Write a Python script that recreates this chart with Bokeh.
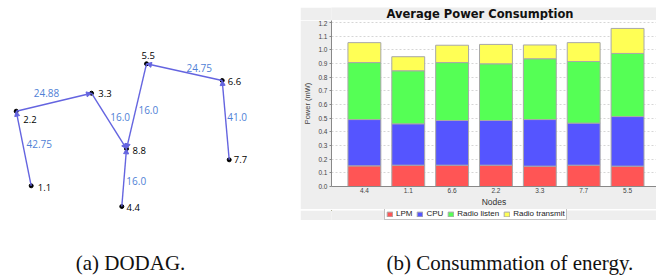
from bokeh.plotting import figure
from bokeh.models import (Range1d, ColumnDataSource, Arrow, NormalHead, Label,
                          Legend, LegendItem, FixedTicker, PrintfTickFormatter, Spacer)
from bokeh.layouts import row, column
from bokeh.embed import file_html
from bokeh.resources import INLINE
from bokeh.core.properties import value

# ---------------- DODAG data ----------------
node_names = ["1.1", "2.2", "3.3", "4.4", "5.5", "6.6", "7.7", "8.8"]
node_x = [30.7, 15.7, 91.0, 121.3, 146.0, 221.7, 228.7, 126.0]
node_y = [185.3, 110.7, 92.7, 206.0, 63.3, 80.0, 159.3, 148.3]
edge_from = ["1.1", "2.2", "3.3", "5.5", "4.4", "6.6", "7.7"]
edge_to = ["2.2", "3.3", "8.8", "8.8", "8.8", "5.5", "6.6"]
edge_weight = ["42.75", "24.88", "16.0", "16.0", "16.0", "24.75", "41.0"]

# ---------------- Bar chart data ----------------
nodes = ["4.4", "1.1", "6.6", "2.2", "3.3", "7.7", "5.5"]
lpm = [0.151, 0.156, 0.156, 0.156, 0.149, 0.156, 0.149]
cpu = [0.339, 0.303, 0.327, 0.327, 0.341, 0.308, 0.363]
radio_listen = [0.417, 0.388, 0.424, 0.415, 0.445, 0.451, 0.462]
radio_transmit = [0.146, 0.103, 0.127, 0.142, 0.101, 0.138, 0.183]
series_names = ["LPM", "CPU", "Radio listen", "Radio transmit"]
y_ticks = [0.0, 0.1, 0.2, 0.3, 0.4, 0.5, 0.6, 0.7, 0.8, 0.9, 1.0, 1.1, 1.2]

# styles
edge_color = "#6464e0"
weight_color = "#4f7fd6"
panel_gray = "#eeeeee"
series_colors = ["#ff5555", "#5555ff", "#55ff55", "#ffff55"]
node_label_dx = [6.6, 7.0, 6.7, 4.7, -5.0, 5.5, 4.6, 6.0]
node_label_dy = [2.0, 8.6, 0.0, 0.7, -8.3, 0.7, 0.0, 1.7]
weight_dx = [15.5, -7.3, 11.2, 11.8, 12.1, 14.9, 11.5]
weight_dy = [-4.7, -9.0, -3.8, 3.5, 3.6, -4.0, -3.0]


def blank(width, height, xr, yr, fill="white", left_border=0):
    f = figure(width=width, height=height, x_range=Range1d(*xr), y_range=Range1d(*yr),
               output_backend="svg", toolbar_location=None, min_border=0,
               min_border_left=left_border)
    f.axis.visible = False
    f.grid.visible = False
    f.outline_line_color = None
    f.background_fill_color = fill
    f.border_fill_color = fill
    return f


# ---------------- Left: DODAG ----------------
left = blank(300, 275, (0, 300), (275, 0))

pos = {n: (x, y) for n, x, y in zip(node_names, node_x, node_y)}
esrc = ColumnDataSource(dict(
    xs=[pos[a][0] for a in edge_from], ys=[pos[a][1] for a in edge_from],
    xe=[pos[b][0] for b in edge_to], ye=[pos[b][1] for b in edge_to]))
left.add_layout(Arrow(end=NormalHead(size=5, fill_color=edge_color, line_color=edge_color, line_width=1),
                      line_color=edge_color, line_width=1.4,
                      x_start="xs", y_start="ys", x_end="xe", y_end="ye", source=esrc))

wsrc = ColumnDataSource(dict(
    x=[(pos[a][0] + pos[b][0]) / 2 + dx for a, b, dx in zip(edge_from, edge_to, weight_dx)],
    y=[(pos[a][1] + pos[b][1]) / 2 + dy for a, b, dy in zip(edge_from, edge_to, weight_dy)],
    t=edge_weight))
left.text(x="x", y="y", text="t", source=wsrc, text_color=weight_color,
          text_font=value("Open Sans"), text_font_size="10px",
          text_align="center", text_baseline="middle")

nsrc = ColumnDataSource(dict(x=node_x, y=node_y, t=node_names, dx=node_label_dx, dy=node_label_dy))
left.scatter(x="x", y="y", source=nsrc, size=4, color="black")
left.text(x="x", y="y", text="t", source=nsrc, x_offset="dx", y_offset="dy",
          text_color="#000000", text_font=value("Open Sans"), text_font_size="9.5px",
          text_align="left", text_baseline="middle")

left.add_layout(Label(x=130, y=262, text="(a) DODAG.", text_font="Liberation Serif",
                      text_font_size="21px", text_align="center", text_baseline="alphabetic",
                      text_color="#111111"))

# ---------------- Right: bar chart (frame spans page x 330..656) ----------------
title_strip = blank(356, 13, (330, 656), (20, 7), fill=panel_gray, left_border=30)
title_strip.add_layout(Label(x=479, y=13.8, text="Average Power Consumption", text_font="DejaVu Sans",
                             text_font_size="11.5px", text_font_style="bold", text_align="center",
                             text_baseline="middle", text_color="#111111"))

xs = list(range(len(nodes)))
src = ColumnDataSource(dict(x=xs, lpm=lpm, cpu=cpu, listen=radio_listen, transmit=radio_transmit))
stack_cols = ["lpm", "cpu", "listen", "transmit"]

chart = figure(width=356, height=189, x_range=Range1d(-0.75, 6.66), y_range=Range1d(0, 1.215),
               output_backend="svg", toolbar_location=None,
               min_border_left=30, min_border_right=0, min_border_top=0, min_border_bottom=21)
chart.border_fill_color = panel_gray
chart.background_fill_color = "white"
chart.outline_line_color = None

chart.vbar_stack(stack_cols, x="x", width=0.75, source=src,
                 color=series_colors, line_color="#a8a8a8", line_width=1)

chart.xgrid.visible = False
chart.ygrid.ticker = FixedTicker(ticks=y_ticks)
chart.ygrid.grid_line_color = "#d6d6d6"
chart.ygrid.grid_line_dash = "2 2"

ya = chart.yaxis[0]
ya.ticker = FixedTicker(ticks=y_ticks)
ya.formatter = PrintfTickFormatter(format="%.1f")
ya.major_label_text_font_size = "6.5px"
ya.major_label_text_color = "#444444"
ya.major_label_standoff = 2
ya.major_tick_out = 2
ya.major_tick_in = 0
ya.minor_tick_out = 0
ya.minor_tick_in = 0
ya.axis_line_color = "#888888"
ya.major_tick_line_color = "#888888"
ya.axis_label = "Power (mW)"
ya.axis_label_text_font_size = "7.5px"
ya.axis_label_text_font_style = "normal"
ya.axis_label_text_color = "#444444"
ya.axis_label_standoff = 3

xa = chart.xaxis[0]
xa.ticker = FixedTicker(ticks=xs)
xa.major_label_overrides = {i: n for i, n in zip(xs, nodes)}
xa.major_label_text_font_size = "6.5px"
xa.major_label_text_color = "#444444"
xa.major_label_standoff = 1
xa.major_tick_out = 0
xa.major_tick_in = 0
xa.minor_tick_out = 0
xa.minor_tick_in = 0
xa.axis_line_color = "#888888"
xa.axis_label = "Nodes"
xa.axis_label_text_font_size = "8.5px"
xa.axis_label_text_font_style = "normal"
xa.axis_label_text_color = "#333333"
xa.axis_label_standoff = 1

# legend strip: the same stacked series (out of this strip's view) provide the legend keys
legend_strip = blank(356, 11, (330, 656), (220, 209), fill=panel_gray, left_border=30)
keys = legend_strip.vbar_stack(stack_cols, x="x", width=0.75, source=src,
                               color=series_colors, line_color="#a8a8a8", line_width=1)
legend = Legend(items=[LegendItem(label=n, renderers=[r]) for n, r in zip(series_names, keys)],
                orientation="horizontal", location=(53, 0),
                label_text_font_size="8px", label_text_color="#222222",
                glyph_width=7, glyph_height=6, label_standoff=3, spacing=4,
                padding=1, margin=0, label_height=8, label_width=5,
                border_line_color="#888888", background_fill_color="white",
                background_fill_alpha=1)
legend_strip.add_layout(legend)

cap = blank(356, 55, (330, 656), (275, 220), left_border=30)
cap.add_layout(Label(x=509, y=262, text="(b) Consummation of energy.", text_font="Liberation Serif",
                     text_font_size="21px", text_align="center", text_baseline="alphabetic",
                     text_color="#111111"))

right = column(Spacer(width=356, height=7), title_strip, chart, legend_strip, cap)
layout = row(left, right)
open("out.html", "w").write(file_html(layout, INLINE))
